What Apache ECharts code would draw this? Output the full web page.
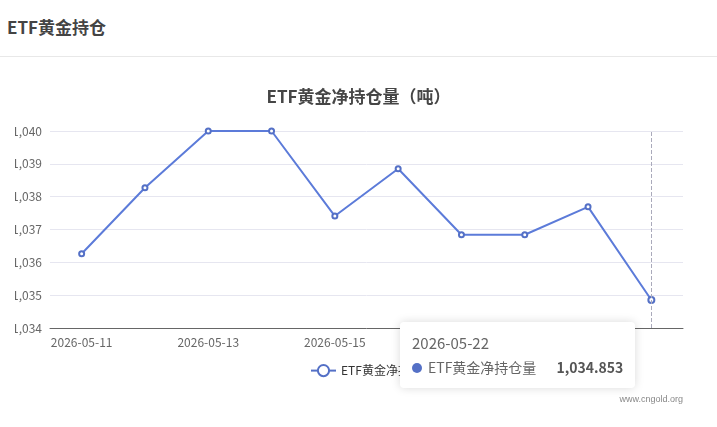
<!DOCTYPE html>
<html><head><meta charset="utf-8">
<script src="https://cdn.jsdelivr.net/npm/echarts@6/dist/echarts.min.js"></script>
<style>
body{margin:0;width:717px;height:427px;overflow:hidden;background:#fff;font-family:"Noto Sans CJK SC","Noto Sans",sans-serif;position:relative}
#hd{position:absolute;left:7px;top:14px;font-size:17px;font-weight:bold;color:#444}
#line{position:absolute;left:0;top:56px;width:717px;height:1px;background:#e8e8e8}
#c{position:absolute;left:0;top:57px;width:717px;height:370px}
#mask{position:absolute;left:0;top:100px;width:15px;height:260px;background:#fff;z-index:5}
</style></head><body>
<div id="hd">ETF黄金持仓</div><div id="line"></div>
<div id="c"></div><div id="mask"></div>
<script>
var dates=['2026-05-11','2026-05-12','2026-05-13','2026-05-14','2026-05-15','2026-05-18','2026-05-19','2026-05-20','2026-05-21','2026-05-22'];
var values=[1036.26,1038.27,1040.0,1040.0,1037.41,1038.85,1036.84,1036.84,1037.69,1034.853];
var ch=echarts.init(document.getElementById('c'));
ch.setOption({
 animation:false,
 textStyle:{fontFamily:'"Noto Sans CJK SC","Noto Sans",sans-serif'},
 title:{text:'ETF黄金净持仓量（吨）',left:'center',top:26,textStyle:{fontSize:17,fontWeight:'bold',color:'#464646'}},
 grid:{left:50,right:34,top:74,bottom:99},
 tooltip:{trigger:'axis',alwaysShowContent:true,position:[400,265],borderWidth:0,
  axisPointer:{type:'line',lineStyle:{color:'#aab',type:'dashed'}},
  formatter:function(p){return '<div style="font-size:15px;color:#666">'+p[0].name+'</div><div style="font-size:14px;color:#666;margin-top:4px"><span style="display:inline-block;width:10px;height:10px;border-radius:5px;background:#5470c6;margin-right:6px"></span>ETF黄金净持仓量<b style="margin-left:20px;color:#555">'+p[0].value.toLocaleString('en-US',{minimumFractionDigits:3})+'</b></div>';},
  padding:[10,12],extraCssText:'box-shadow:0 0 10px rgba(0,0,0,0.15);'},
 legend:{data:['ETF黄金净持仓量'],left:305,top:302,textStyle:{fontSize:12,color:'#333'}},
 xAxis:{type:'category',data:dates,boundaryGap:true,axisTick:{show:false},
  axisLine:{lineStyle:{color:'#666'}},axisLabel:{interval:1,color:'#666',fontSize:12,margin:8}},
 yAxis:{type:'value',min:1034,max:1040,interval:1,
  axisLabel:{color:'#666',fontSize:12,formatter:function(v){return v.toLocaleString('en-US');}},
  splitLine:{lineStyle:{color:'#e6e6f0'}}},
 graphic:[{type:'text',right:34,top:338,style:{text:'www.cngold.org',fill:'#888',fontSize:9}}],
 series:[{name:'ETF黄金净持仓量',type:'line',data:values,symbol:'emptyCircle',symbolSize:5,
  itemStyle:{color:'#5470c6'},lineStyle:{width:2,color:'#5470c6'}}]
});
ch.dispatchAction({type:'showTip',seriesIndex:0,dataIndex:9});
</script></body></html>
